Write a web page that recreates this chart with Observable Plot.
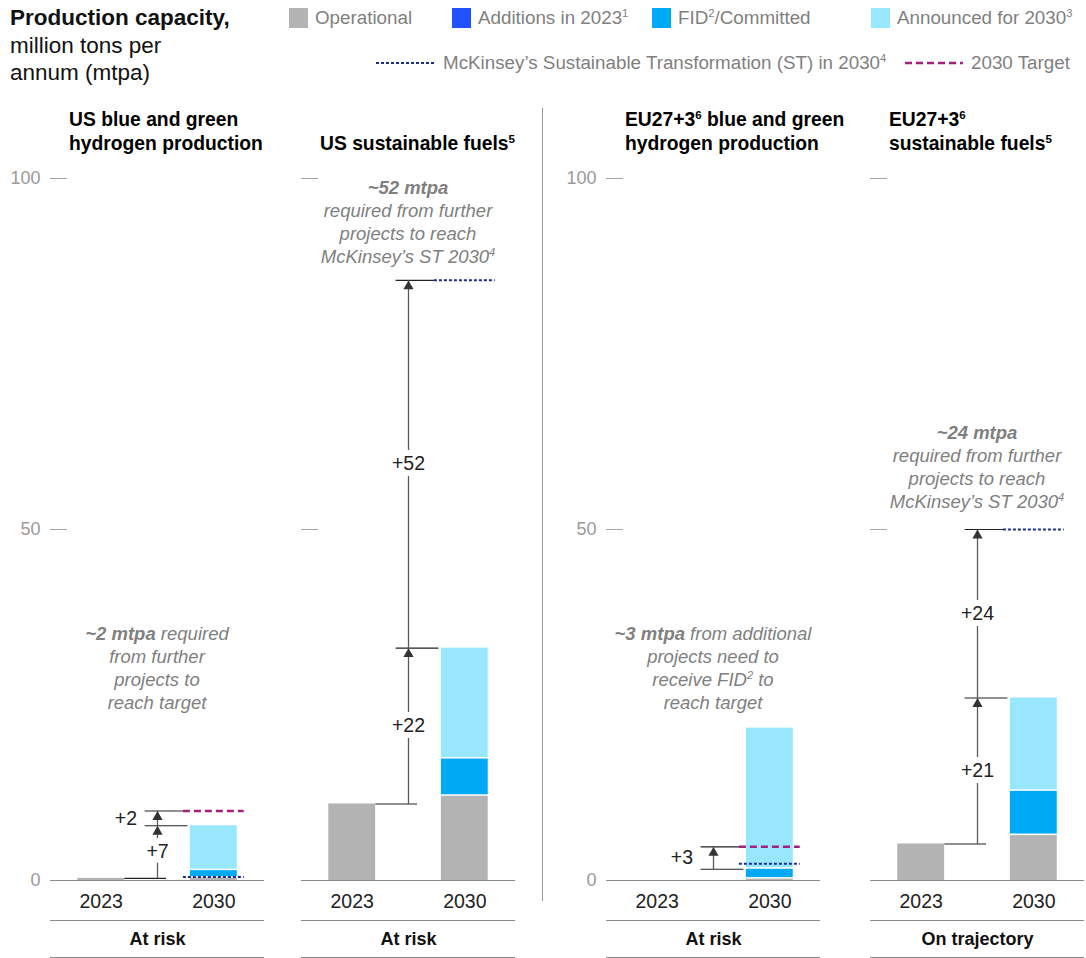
<!DOCTYPE html>
<html><head><meta charset="utf-8">
<script src="https://cdn.jsdelivr.net/npm/d3@7"></script>
<script src="https://cdn.jsdelivr.net/npm/@observablehq/plot@0.6"></script>
<style>
body{margin:0;background:#fff;font-family:"Liberation Sans",Arial,sans-serif;}
#root{position:relative;width:1086px;height:958px;overflow:hidden;background:#fff;}
.abs{position:absolute;white-space:nowrap;}
sup{font-size:0.6em;vertical-align:0.6em;line-height:0;}
.hdr{left:10px;top:4px;font-size:22.5px;line-height:27.5px;color:#111;}
.leg{font-size:18.8px;color:#7f7f7f;line-height:20px;}
.sw{width:19px;height:20px;}
.title{font-size:19.3px;font-weight:bold;line-height:24px;color:#000;}
.note{font-size:18.5px;font-style:italic;color:#7f7f7f;line-height:23px;text-align:center;transform:translateX(-50%);}
.note b{font-weight:bold;}
.sep{left:542px;top:108px;width:1px;height:793px;background:#999;}
</style></head><body><div id="root"></div>
<script>
// ---------- data ----------
const years = ["2023", "2030"];
const seriesNames = ["Operational", "Additions in 2023", "FID/Committed", "Announced for 2030"];
const seriesColors = ["#b3b3b3", "#2251ff", "#00a9f4", "#99e6ff"];
const panelTitles = [
  "US blue and green<br>hydrogen production",
  "US sustainable fuels<sup>5</sup>",
  "EU27+3<sup>6</sup> blue and green<br>hydrogen production",
  "EU27+3<sup>6</sup><br>sustainable fuels<sup>5</sup>"
];
const statuses = ["At risk", "At risk", "At risk", "On trajectory"];
const operational2023 = [0.3, 10.9, 0, 5.2];
const additions2023 = [0, 0, 0, 0];
const operational2030 = [0.35, 12.0, 0.2, 6.4];
const fidCommitted2030 = [1.05, 5.3, 1.4, 6.3];
const announced2030 = [6.4, 15.8, 20.1, 13.3];
const stScenario2030 = [0.5, 85.5, 2.4, 50];
const target2030 = [9.9, null, 4.8, null];
const gapPath = [
  ["operational2023", "total2030", "target"],
  ["operational2023", "total2030", "st"],
  ["committed2030", "target"],
  ["operational2023", "total2030", "st"]
];
const gapLabels = [["+7", "+2"], ["+22", "+52"], ["+3"], ["+21", "+24"]];
const yTicks = [0, 50, 100];
const showTickLabels = [true, false, true, false];
const notes = [
  "<b>~2 mtpa</b> required<br>from further<br>projects to<br>reach target",
  "<b>~52 mtpa</b><br>required from further<br>projects to reach<br>McKinsey’s ST 2030<sup>4</sup>",
  "<b>~3 mtpa</b> from additional<br>projects need to<br>receive FID<sup>2</sup> to<br>reach target",
  "<b>~24 mtpa</b><br>required from further<br>projects to reach<br>McKinsey’s ST 2030<sup>4</sup>"
];

// ---------- layout (styling only) ----------
const frameLeft = [50, 301, 606, 870];
const frameW = 214, ML = 50, MR = 10, SVG_TOP = 160, H = 800, MT = 18, MB = 80;
const noteTop = [622, 176, 622, 421];
const hb = 0.208; // half bar width in slot units
const FONT = "'Liberation Sans', Arial, sans-serif";
const root = document.getElementById("root");

function add(html, cls, style) {
  const d = document.createElement("div");
  d.className = "abs " + (cls || "");
  d.innerHTML = html;
  Object.assign(d.style, style || {});
  root.appendChild(d);
  return d;
}

// header
add("<b>Production capacity,</b><br>million tons per<br>annum (mtpa)", "hdr");
// legend row 1
const legX = [289, 452, 652, 871];
const legLabels = ["Operational", "Additions in 2023<sup>1</sup>", "FID<sup>2</sup>/Committed", "Announced for 2030<sup>3</sup>"];
legX.forEach((x, i) => {
  add("", "sw", {left: x + "px", top: "8px", background: seriesColors[i]});
  add(legLabels[i], "leg", {left: (x + 26) + "px", top: "8px"});
});
// legend row 2
const stColor = "#1b2f8f", targetColor = "#a2207e";
add(`<svg width="60" height="6"><line x1="0" y1="3" x2="60" y2="3" stroke="${stColor}" stroke-width="2" stroke-dasharray="3,2"/></svg>`, "", {left: "376px", top: "60px", lineHeight: "0"});
add("McKinsey’s Sustainable Transformation (ST) in 2030<sup>4</sup>", "leg", {left: "443px", top: "53px"});
add(`<svg width="58" height="6"><line x1="0" y1="3" x2="58" y2="3" stroke="${targetColor}" stroke-width="2.5" stroke-dasharray="7,4"/></svg>`, "", {left: "905px", top: "60px", lineHeight: "0"});
add("2030 Target", "leg", {left: "971px", top: "53px"});

// separator
add("", "sep");

// ---------- panels ----------
for (let p = 0; p < 4; p++) {
  const total2030 = operational2030[p] + fidCommitted2030[p] + announced2030[p];
  const committed = operational2030[p] + fidCommitted2030[p];
  const values = {
    operational2023: operational2023[p], total2030, committed2030: committed,
    target: target2030[p], st: stScenario2030[p]
  };
  const rows = [
    {year: 0, series: seriesNames[0], y1: 0, y2: operational2023[p]},
    {year: 0, series: seriesNames[1], y1: operational2023[p], y2: operational2023[p] + additions2023[p]},
    {year: 1, series: seriesNames[0], y1: 0, y2: operational2030[p]},
    {year: 1, series: seriesNames[2], y1: operational2030[p], y2: committed},
    {year: 1, series: seriesNames[3], y1: committed, y2: total2030}
  ].filter(r => r.y2 > r.y1);

  const path = gapPath[p];
  const levels = path.map(k => values[k]);
  const hLines = levels.map((v, i) => {
    const isBase = i === 0, isLast = i === levels.length - 1;
    if (isBase && path[0] === "operational2023") return {y: v, x1: 0.21, x2: 0.58};
    return {y: v, x1: 0.39, x2: isLast ? 0.73 : 0.77};
  });
  const gaps = gapLabels[p].map((label, i) => ({
    from: levels[i], to: levels[i + 1], mid: (levels[i] + levels[i + 1]) / 2, label,
    small: (levels[i + 1] - levels[i]) < 4
  }));

  const marks = [
    Plot.ruleY(showTickLabels[p] ? yTicks : yTicks.filter(t => t > 0), {stroke: "#a6a6a6", insetRight: frameW - 17}),
    Plot.rectY(rows.filter(r => r.series === seriesNames[0]), {x1: r => r.year - hb, x2: r => r.year + hb, y1: "y1", y2: "y2", fill: "series"}),
    Plot.rectY(rows.filter(r => r.series !== seriesNames[0]), {x1: r => r.year - hb, x2: r => r.year + hb, y1: "y1", y2: "y2", fill: "series", insetBottom: 1.5}),
    Plot.ruleY([0], {stroke: "#8c8c8c", strokeWidth: 1.2}),
    Plot.ruleY([0], {stroke: "#8c8c8c", strokeWidth: 1.2, dy: 40}),
    Plot.ruleY([0], {stroke: "#8c8c8c", strokeWidth: 1.2, dy: 77}),
    Plot.text(years, {x: (d, i) => i, frameAnchor: "bottom", dy: 27, fontSize: 19.5, fill: "#222"}),
    Plot.text([statuses[p]], {x: () => 0.5, frameAnchor: "bottom", dy: 64, fontSize: 18, fontWeight: "bold", fill: "#111"}),
    // target / scenario lines
    Plot.ruleY(target2030[p] != null ? [target2030[p]] : [], {x1: () => 0.73, x2: () => 1.27, stroke: targetColor, strokeWidth: 2.6, strokeDasharray: "7,4"}),
    Plot.ruleY([stScenario2030[p]], {x1: () => 0.73, x2: () => 1.27, stroke: stColor, strokeWidth: 2, strokeDasharray: "3,2"}),
    // bracket lines
    Plot.ruleY(hLines, {y: "y", x1: "x1", x2: "x2", stroke: "#222", strokeWidth: 1.2}),
    Plot.link(gaps, {x1: () => 0.5, x2: () => 0.5, y1: "from", y2: "to", stroke: "#5a5a5a", strokeWidth: 1.3}),
    Plot.dot(gaps, {x: () => 0.5, y: "to", symbol: "triangle", r: 3.8, fill: "#333", stroke: null, dy: 6}),
    Plot.text(gaps.filter(g => !g.small), {x: () => 0.5, y: "mid", text: "label", fontSize: 19.5, fill: "#222", stroke: "white", strokeWidth: 12}),
    Plot.text(gaps.filter(g => g.small), {x: () => 0.22, y: "mid", text: "label", fontSize: 19.5, fill: "#222"})
  ];
  if (showTickLabels[p]) {
    marks.push(Plot.axisY(yTicks, {tickSize: 0, tickPadding: 10, fontSize: 18, color: "#9a9a9a", fill: "#9a9a9a"}));
  }

  const chart = Plot.plot({
    width: ML + frameW + MR, height: H,
    marginLeft: ML, marginRight: MR, marginTop: MT, marginBottom: MB,
    style: {background: "transparent", overflow: "visible", fontFamily: FONT},
    x: {domain: [-0.45, 1.45], axis: null},
    y: {domain: [0, 100], axis: null},
    color: {domain: seriesNames, range: seriesColors},
    marks
  });
  const svgLeft = frameLeft[p] - ML;
  chart.style.position = "absolute";
  chart.style.left = svgLeft + "px";
  chart.style.top = SVG_TOP + "px";
  root.appendChild(chart);

  // title
  add(panelTitles[p], "title", {left: (frameLeft[p] + 19) + "px", bottom: (958 - 156) + "px"});
  // note
  const nx = svgLeft + chart.scale("x").apply(0.5);
  add(notes[p], "note", {left: nx + "px", top: noteTop[p] + "px"});
}
</script></body></html>
